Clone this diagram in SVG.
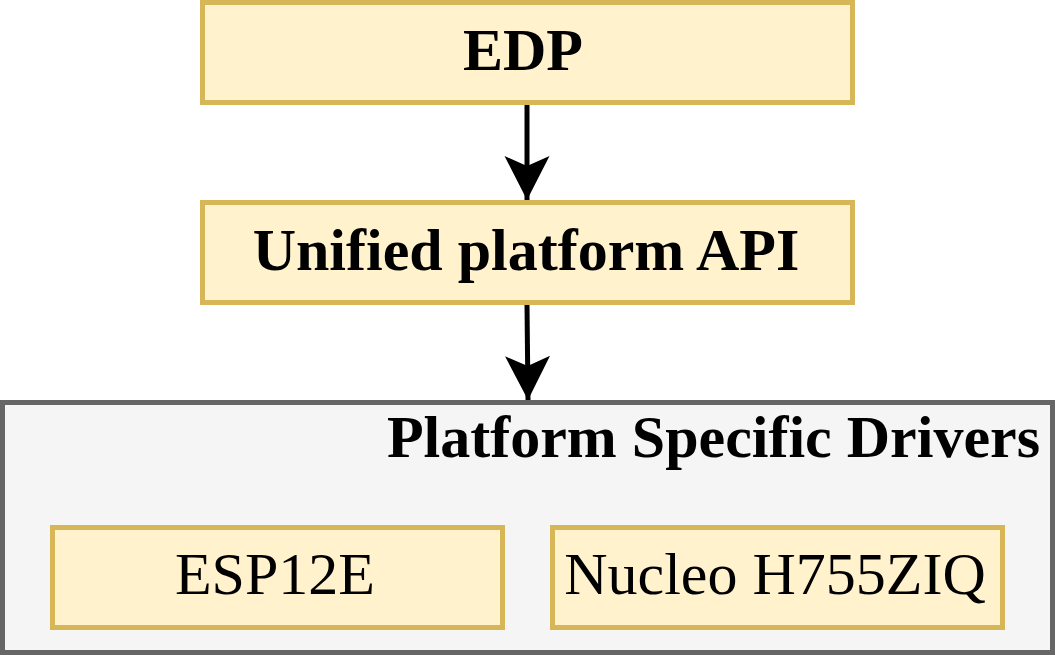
<svg xmlns="http://www.w3.org/2000/svg" width="1055" height="655" viewBox="0 0 1055 655">
<defs>
<style>
.box{fill:#fff2cc;stroke:#d6b656;stroke-width:5}
.cont{fill:#f5f5f5;stroke:#666666;stroke-width:5}
.t{font-family:"Liberation Serif","Times New Roman",serif;font-size:60px;fill:#000;text-anchor:middle}
.b{font-weight:bold}
.edge{stroke:#000;stroke-width:5;fill:none}
</style>
<marker id="arr" markerUnits="userSpaceOnUse" markerWidth="50" markerHeight="50" refX="44" refY="22.5" orient="auto" viewBox="0 0 50 45">
<path d="M0,0 L44,22.5 L0,45 L10,22.5 Z" fill="#000"/>
</marker>
</defs>
<rect x="0" y="0" width="1055" height="655" fill="#ffffff"/>
<g id="edp">
<rect class="box" x="202.5" y="2.5" width="650" height="100"/>
<text class="t b" x="523" y="69.5">EDP</text>
</g>
<g id="api">
<rect class="box" x="202.5" y="202.5" width="650" height="100"/>
<text class="t b" x="526" y="270">Unified platform API</text>
</g>
<g id="drivers">
<rect class="cont" x="2.5" y="402.5" width="1050" height="250"/>
<text class="t b" x="1040" y="457" style="text-anchor:end">Platform Specific Drivers</text>
</g>
<g id="esp">
<rect class="box" x="52.5" y="527.5" width="450" height="100"/>
<text class="t" x="275" y="594">ESP12E</text>
</g>
<g id="nucleo">
<rect class="box" x="552.5" y="527.5" width="450" height="100"/>
<text class="t" x="775" y="594">Nucleo H755ZIQ</text>
</g>
<g id="connectors">
<line class="edge" x1="527" y1="105" x2="527" y2="200" marker-end="url(#arr)"/>
<line class="edge" x1="527" y1="305" x2="528" y2="400" marker-end="url(#arr)"/>
</g>
</svg>
